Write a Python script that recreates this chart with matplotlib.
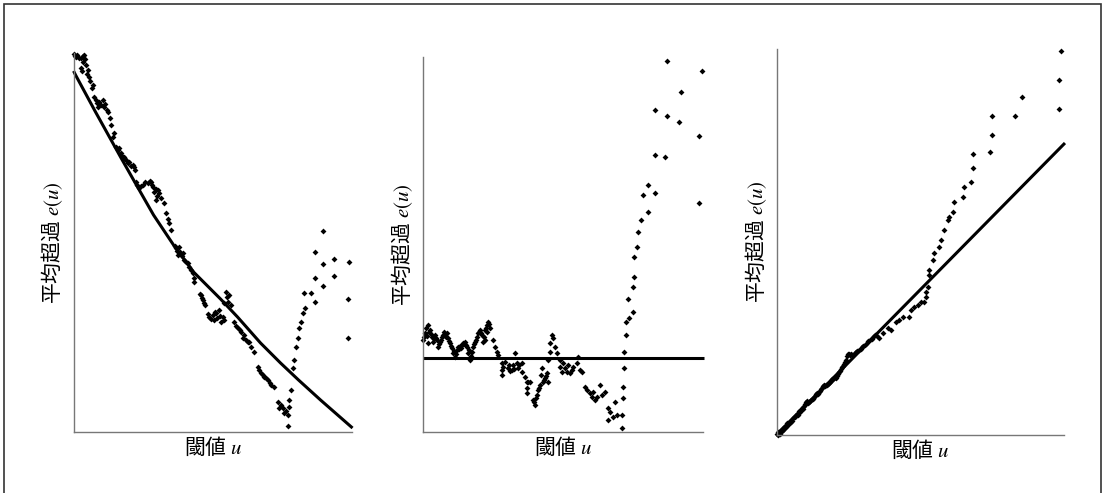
import matplotlib
matplotlib.use("Agg")
import matplotlib.pyplot as plt
from matplotlib.patches import Rectangle

plt.rcParams['font.family'] = ['Noto Sans CJK JP', 'DejaVu Sans']
plt.rcParams['mathtext.fontset'] = 'stix'

# --- panel 1: decreasing mean excess (units are arbitrary) ---
p1_x = [0, 1, 2, 3, 5, 7, 9, 10, 11, 9, 12, 7, 8, 14, 13, 15, 16, 19, 18,
        20, 22, 23, 25, 27, 24, 29, 30, 31, 33, 34, 36,
        37, 40, 39,
        42, 44, 45, 47, 48, 50, 51, 52, 54, 55, 57, 59, 60, 61,
        62, 63, 65, 67, 69, 71, 74, 76, 77, 78, 79, 80, 82, 84, 85, 82, 83, 87, 90, 92, 94, 95, 97,
        101, 102, 103, 105, 104, 106, 108, 109, 110, 112, 114, 115, 117, 119, 120, 120,
        126, 127, 128, 129, 130, 131,
        134, 135, 137, 139, 140, 141, 142, 143, 145, 146, 147, 149, 150,
        150, 152, 153, 154, 155, 157,
        160, 162, 164, 166, 167, 169, 170, 172, 174, 175, 177, 180,
        184, 185, 187, 189, 190, 192, 194, 196, 197, 200,
        204, 205, 207, 209, 210, 212, 214, 214, 215, 215, 217, 219, 220, 222, 224, 225,
        227, 229, 231, 230, 237, 241, 241, 241, 249, 249, 249, 260, 260, 275, 274, 274]
p1_y = [378, 376, 375, 377, 374, 374, 376, 377, 373, 370, 367, 364, 361, 362, 358, 355, 351, 347, 344,
        335, 332, 329, 330, 327, 325, 332, 325, 328, 322, 320, 314,
        307, 299, 295,
        285, 282, 284, 279, 276, 275, 273, 272, 269, 270, 266, 267, 265, 262,
        250, 247, 244, 246, 247, 250, 249, 251, 250, 247, 245, 240, 243, 242, 239, 232, 236, 234, 229, 219, 213, 209, 202,
        186, 184, 181, 185, 177, 180, 176, 179, 172, 170, 169, 165, 162, 159, 154, 150,
        138, 137, 134, 132, 129, 127,
        118, 115, 113, 117, 112, 120, 119, 114, 122, 116, 110, 115, 112,
        129, 140, 135, 130, 137, 127,
        110, 106, 104, 102, 100, 94, 97, 92, 90, 90, 85, 80,
        65, 62, 59, 57, 55, 54, 52, 49, 47, 45,
        30, 24, 27, 24, 19, 21, 17, 6, 25, 32, 42, 64, 72, 85, 94, 104,
        110, 119, 124, 139, 139, 130, 154, 180, 201, 168, 146, 173, 156, 170, 133, 94]
fit1_x = [0, 2, 22, 47, 64, 80, 100, 120, 147, 164, 187, 207, 225, 247, 279]
fit1_y = [361, 357, 320, 275, 245, 217, 187, 160, 133, 115, 89, 69, 52, 32, 4]

# --- panel 2: flat mean excess ---
p2_x = [0, 2, 5, 7, 9, 5, 10, 12, 14, 15, 17, 19, 20, 24, 25, 27, 29, 30, 32, 34,
        35, 39, 40, 42, 44, 45, 47, 49, 50, 52, 54, 55, 57, 59, 60, 62, 64, 65, 67, 62,
        1, 3, 4, 6, 8, 11, 13, 16, 18, 21, 22, 23, 26, 28, 31, 33, 36, 37, 38, 41,
        43, 46, 48, 51, 53, 56, 58, 61, 63, 66, 64,
        70, 72, 74, 75,
        79, 79, 79, 80, 82, 85, 89, 90, 92, 94, 95, 99, 99, 86, 87, 91, 96,
        102, 104, 105, 104, 104, 107, 110, 112, 114, 115, 117, 118, 119, 120, 122, 124,
        125, 125, 127, 127, 129, 130, 132, 134, 111, 113, 116, 121, 123,
        137, 137, 139, 140, 142, 144, 145, 147, 149, 150, 154, 155, 157, 159,
        162, 164, 167, 169, 170, 172, 174, 177, 179, 182,
        185, 187, 185, 190, 192, 194, 199, 199, 200, 200, 201, 201, 203, 203, 206,
        205, 210, 210, 211, 211, 214, 215, 218, 220, 225, 225, 232, 232, 232,
        242, 244, 244, 256, 258, 276, 276, 279]
p2_y = [92, 99, 107, 102, 95, 89, 90, 97, 92, 85, 90, 95, 97, 99, 94, 89, 84, 79, 75, 82,
        85, 87, 89, 90, 85, 79, 72, 80, 85, 90, 95, 99, 102, 97, 90, 102, 107, 110, 104, 92,
        95, 104, 96, 100, 98, 93, 94, 88, 92, 100, 97, 95, 91, 86, 81, 78, 83, 86, 84, 88,
        87, 82, 76, 88, 92, 100, 99, 95, 104, 108, 100,
        92, 85, 80, 77,
        69, 62, 57, 65, 70, 64, 62, 67, 79, 69, 64, 69, 60, 67, 61, 63, 67,
        55, 50, 50, 44, 39, 50, 32, 27, 37, 42, 47, 57, 64, 50, 54, 59,
        50, 72, 80, 89, 97, 94, 85, 79, 30, 34, 44, 52, 56,
        72, 65, 60, 69, 64, 60, 67, 59, 62, 65, 69, 75, 62, 60,
        45, 42, 39, 35, 40, 32, 35, 47, 37, 40,
        24, 20, 12, 15, 30, 17, 17, 4, 34, 45, 64, 80, 97, 110, 114,
        133, 120, 145, 155, 175, 185, 200, 212, 237, 247, 220, 239, 277, 322,
        275, 316, 371, 310, 340, 229, 296, 361]
fit2_x = [0, 281]
fit2_y = [74, 74]

# --- panel 3: increasing mean excess ---
p3_x = [0, 1, 1, 2, 3, 3, 4, 5, 6, 6, 7, 8, 9, 10, 10, 11, 12, 13, 14, 15,
        16, 17, 18, 19, 20, 21, 22, 23, 24, 25, 26, 27, 28, 29, 30, 31, 32, 33, 34, 35,
        36, 37, 38, 39, 40, 41, 42, 43, 44, 45, 46, 47, 48, 49, 50, 51, 52, 53, 54, 55,
        56, 57, 58, 59, 60, 61, 62, 63, 64, 65, 66, 67, 68, 69, 70, 71, 72, 73, 74, 75,
        76, 78, 79, 80, 82, 84, 85, 86, 88, 90, 91, 93, 95, 96, 98, 100,
        102, 106, 111, 114, 119, 122, 126, 132, 134, 137, 141, 144, 147, 149, 149, 151,
        152, 152, 156, 157, 162, 164, 167, 171, 172, 176, 177, 186, 187, 194, 196, 196,
        213, 215, 215, 238, 245, 282, 282, 284]
p3_y = [1, 0, 3, 2, 4, 1, 5, 4, 7, 5, 8, 7, 10, 9, 12, 11, 13, 12, 15, 14,
        17, 18, 18, 20, 21, 20, 24, 23, 25, 27, 26, 29, 31, 33, 34, 32, 33, 34, 35, 36,
        36, 38, 39, 41, 42, 41, 43, 44, 46, 47, 49, 50, 49, 50, 50, 51, 52, 53, 54, 56,
        56, 57, 58, 57, 59, 61, 63, 64, 66, 68, 69, 71, 73, 75, 79, 81, 81, 80, 81, 80,
        80, 82, 83, 84, 85, 86, 88, 89, 90, 92, 94, 95, 96, 98, 100, 99,
        97, 102, 107, 105, 113, 115, 118, 118, 125, 128, 130, 133, 133, 138, 143, 148,
        160, 165, 175, 182, 188, 195, 205, 215, 218, 223, 233, 238, 248, 253, 267, 281,
        283, 300, 319, 319, 338, 326, 355, 384]
fit3_x = [0, 288]
fit3_y = [0, 292]

fig = plt.figure(figsize=(11.06, 4.93), dpi=100)

panels = [
    ([0.0665, 0.1237, 0.2518, 0.7688], p1_x, p1_y, fit1_x, fit1_y, 278.5, 379),
    ([0.3825, 0.1237, 0.2532, 0.7606], p2_x, p2_y, fit2_x, fit2_y, 280, 375),
    ([0.7025, 0.1176, 0.2595, 0.7830], p3_x, p3_y, fit3_x, fit3_y, 287, 386),
]

for rect, px, py, fx, fy, xmax, ymax in panels:
    ax = fig.add_axes(rect)
    ax.plot(fx, fy, color='black', lw=2.2, solid_capstyle='butt', clip_on=False)
    ax.scatter(px, py, s=9, marker='D', color='black', linewidths=0, clip_on=False)
    ax.set_xlim(0, xmax)
    ax.set_ylim(0, ymax)
    ax.set_xticks([])
    ax.set_yticks([])
    for side in ['top', 'right']:
        ax.spines[side].set_visible(False)
    for side in ['left', 'bottom']:
        ax.spines[side].set_color('#777777')
        ax.spines[side].set_linewidth(1.0)
    ax.set_xlabel('閾値 $u$', fontsize=15, labelpad=3)
    ax.set_ylabel('平均超過 $e(u)$', fontsize=15, labelpad=6)

# frame round the figure (no bottom edge visible)
fig.patches.append(Rectangle((4 / 1106, -0.05), 1097 / 1106, 1.05 - 4 / 493,
                             transform=fig.transFigure, fill=False,
                             edgecolor='#333333', lw=1.2))

fig.savefig('out.png', dpi=100)
